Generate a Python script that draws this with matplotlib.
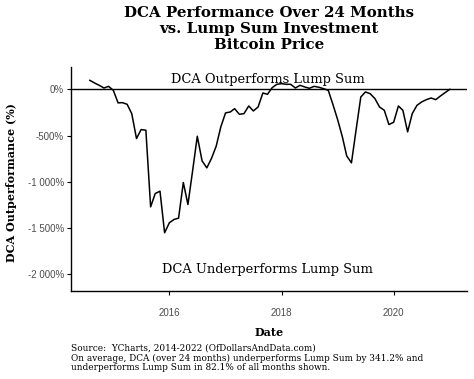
import pandas as pd
import matplotlib
matplotlib.use("Agg")
import matplotlib.pyplot as plt
import matplotlib.dates as mdates
from matplotlib.ticker import FuncFormatter

# monthly DCA outperformance vs lump sum (%), Aug 2014 - Jan 2021
start_month = "2014-08-01"
outperformance = [
    97, 68, 43, 14, 32, -11, -147, -144, -162, -263,
    -532, -435, -442, -1270, -1126, -1101, -1550, -1442, -1406, -1392,
    -1007, -1245, -874, -507, -773, -849, -748, -615, -407, -255,
    -245, -209, -270, -263, -180, -234, -191, -40, -54, 18,
    54, 61, 54, 54, 14, 43, 25, 11, 32, 22,
    7, -11, -162, -327, -514, -719, -795, -442, -83, -29,
    -47, -101, -191, -227, -381, -356, -180, -227, -460, -263,
    -173, -137, -112, -94, -112, -72, -36, 0,
]
y_ticks = [0, -500, -1000, -1500, -2000]
x_tick_years = [2016, 2018, 2020]

title = "DCA Performance Over 24 Months\nvs. Lump Sum Investment\nBitcoin Price"
caption = ("Source:  YCharts, 2014-2022 (OfDollarsAndData.com)\n"
           "On average, DCA (over 24 months) underperforms Lump Sum by 341.2% and\n"
           "underperforms Lump Sum in 82.1% of all months shown.")

dates = pd.date_range(start_month, periods=len(outperformance), freq="MS")

serif = "DejaVu Serif"
fig = plt.figure(figsize=(4.74, 3.79), dpi=100)
ax = fig.add_axes([0.150, 0.232, 0.835, 0.591])

ax.plot(dates, outperformance, color="black", lw=1.1)
ax.axhline(0, color="black", lw=1.0)

ax.set_xlim(pd.Timestamp("2014-04-01"), pd.Timestamp("2021-04-22"))
ax.set_ylim(-2180, 240)

ax.set_yticks(y_ticks)
ax.yaxis.set_major_formatter(FuncFormatter(lambda v, p: f"{int(v):,}%".replace(",", " ")))
ax.set_xticks([pd.Timestamp(f"{y}-01-01") for y in x_tick_years])
ax.xaxis.set_major_formatter(mdates.DateFormatter("%Y"))

for side in ["top", "right"]:
    ax.spines[side].set_visible(False)
for side in ["left", "bottom"]:
    ax.spines[side].set_linewidth(1.0)
ax.tick_params(length=3, width=0.8, labelsize=7, labelcolor="#4d4d4d")
ax.tick_params(axis="y", pad=2)
ax.tick_params(axis="x", pad=9)
for lab in ax.get_xticklabels() + ax.get_yticklabels():
    lab.set_family("Liberation Sans")

mid = pd.Timestamp("2017-10-01")
ax.text(mid, 108, "DCA Outperforms Lump Sum", ha="center", va="center",
        family=serif, fontsize=9.4)
ax.text(mid, -1944, "DCA Underperforms Lump Sum", ha="center", va="center",
        family=serif, fontsize=9.4)

fig.text(0.568, 0.985, title, ha="center", va="top", family=serif,
         fontweight="bold", fontsize=10.8, linespacing=1.2)
fig.text(0.025, 0.517, "DCA Outperformance (%)", rotation=90, ha="center",
         va="center", family=serif, fontweight="bold", fontsize=8)
fig.text(0.568, 0.124, "Date", ha="center", va="center", family=serif,
         fontweight="bold", fontsize=8)
fig.text(0.150, 0.093, caption, ha="left", va="top", family=serif,
         fontsize=6.4, linespacing=1.1)

fig.savefig("out.png", dpi=100)
